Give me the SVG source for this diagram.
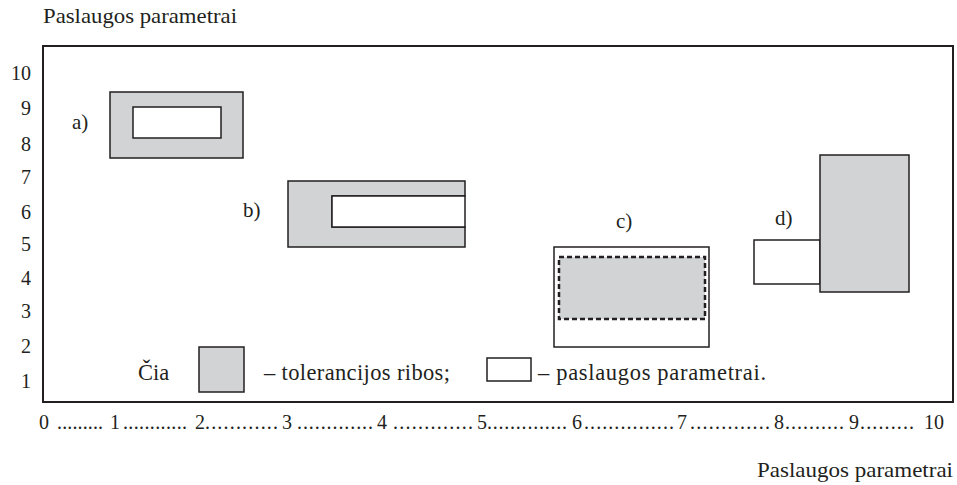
<svg xmlns="http://www.w3.org/2000/svg" width="957" height="485" viewBox="0 0 957 485">
<style>
text{font-family:"Liberation Serif","Times New Roman",serif;font-size:21px;fill:#231f20}
.tol{fill:#d1d3d4;stroke:#231f20;stroke-width:1.5}
.par{fill:#fff;stroke:#231f20;stroke-width:1.5}
.ax{font-size:20px}
.lg{font-size:22.5px}
</style>
<rect width="957" height="485" fill="#fff"/>
<text x="43" y="23" textLength="194" lengthAdjust="spacingAndGlyphs">Paslaugos parametrai</text>
<text x="757" y="477" textLength="196" lengthAdjust="spacingAndGlyphs">Paslaugos parametrai</text>
<rect id="frame" x="43" y="46" width="910" height="356" fill="none" stroke="#231f20" stroke-width="2"/>
<g id="yaxis" class="ax" text-anchor="end">
<text class="ax" x="31" y="80">10</text>
<text class="ax" x="31" y="115">9</text>
<text class="ax" x="31" y="151">8</text>
<text class="ax" x="31" y="184">7</text>
<text class="ax" x="31" y="219">6</text>
<text class="ax" x="31" y="251">5</text>
<text class="ax" x="31" y="285">4</text>
<text class="ax" x="31" y="318">3</text>
<text class="ax" x="31" y="353">2</text>
<text class="ax" x="31" y="388">1</text>
</g>
<g id="xaxis">
<text class="ax" x="39" y="429">0</text>
<text class="ax" x="110" y="429">1</text>
<text class="ax" x="195" y="429">2</text>
<text class="ax" x="282" y="429">3</text>
<text class="ax" x="377" y="429">4</text>
<text class="ax" x="477" y="429">5</text>
<text class="ax" x="572" y="429">6</text>
<text class="ax" x="677" y="429">7</text>
<text class="ax" x="774" y="429">8</text>
<text class="ax" x="849" y="429">9</text>
<text class="ax" x="924" y="429">10</text>
<text class="ax" x="57" y="429" textLength="46">.........</text>
<text class="ax" x="123" y="429" textLength="64">............</text>
<text class="ax" x="205" y="429" textLength="73">............</text>
<text class="ax" x="297" y="429" textLength="76">.............</text>
<text class="ax" x="393" y="429" textLength="80">.............</text>
<text class="ax" x="487" y="429" textLength="80">..............</text>
<text class="ax" x="584" y="429" textLength="90">...............</text>
<text class="ax" x="690" y="429" textLength="80">.............</text>
<text class="ax" x="785" y="429" textLength="59">..........</text>
<text class="ax" x="860" y="429" textLength="54">.........</text>
</g>
<g id="node-a">
<rect class="tol" x="110" y="92" width="133" height="66"/>
<rect class="par" x="133" y="107" width="88" height="31"/>
<text x="72" y="129">a)</text>
</g>
<g id="node-b">
<path class="tol" d="M288 181H465V196H332V227H465V247H288Z"/>
<rect class="par" x="332" y="196" width="133" height="31"/>
<text x="243" y="217">b)</text>
</g>
<g id="node-c">
<rect class="par" x="554" y="247" width="155" height="100"/>
<rect x="559" y="257" width="146" height="62" fill="#d1d3d4" stroke="#231f20" stroke-width="2.5" stroke-dasharray="5,3"/>
<text x="616" y="228">c)</text>
</g>
<g id="node-d">
<rect class="par" x="754" y="240" width="66" height="44"/>
<rect class="tol" x="820" y="155" width="89" height="137"/>
<text x="775" y="225">d)</text>
</g>
<g id="legend">
<text class="lg" x="138" y="380">Čia</text>
<rect class="tol" x="199" y="347" width="45" height="45" stroke-width="2"/>
<text class="lg" x="264" y="380" textLength="186">– tolerancijos ribos;</text>
<rect class="par" x="487" y="358" width="44" height="23"/>
<text class="lg" x="538" y="380" textLength="228">– paslaugos parametrai.</text>
</g>
<g id="connectors"></g>
</svg>
